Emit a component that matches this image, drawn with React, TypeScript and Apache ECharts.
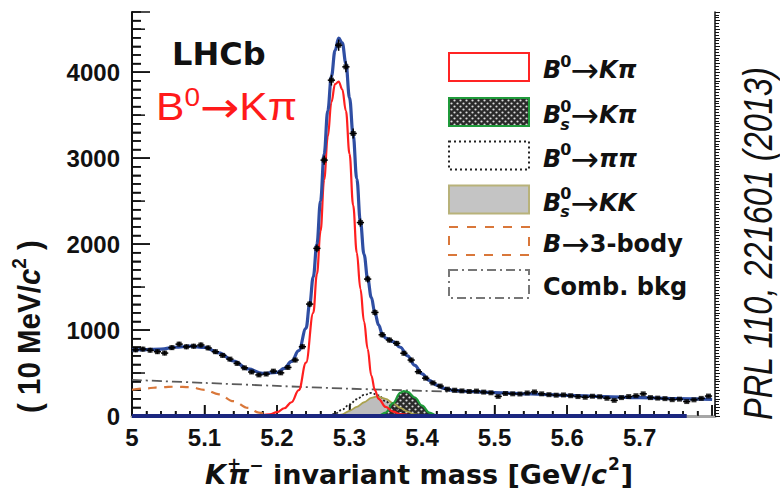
import { useEffect, useRef } from "react";
import * as echarts from "echarts";

// ---------------- data ----------------
const binCenters = [
  5.005, 5.015, 5.025, 5.035, 5.045, 5.055, 5.065, 5.075, 5.085, 5.095,
  5.105, 5.115, 5.125, 5.135, 5.145, 5.155, 5.165, 5.175, 5.185, 5.195,
  5.205, 5.215, 5.225, 5.235, 5.245, 5.255, 5.265, 5.275, 5.285, 5.295,
  5.305, 5.315, 5.325, 5.335, 5.345, 5.355, 5.365, 5.375, 5.385, 5.395,
  5.405, 5.415, 5.425, 5.435, 5.445, 5.455, 5.465, 5.475, 5.485, 5.495,
  5.505, 5.515, 5.525, 5.535, 5.545, 5.555, 5.565, 5.575, 5.585, 5.595,
  5.605, 5.615, 5.625, 5.635, 5.645, 5.655, 5.665, 5.675, 5.685, 5.695,
  5.705, 5.715, 5.725, 5.735, 5.745, 5.755, 5.765, 5.775, 5.785, 5.795,
];

const candidates = [
  770, 778, 765, 748, 732, 795, 836, 805, 812, 826,
  792, 748, 705, 662, 612, 560, 512, 478, 488, 522,
  502, 565, 651, 806, 1302, 1950, 2977, 3907, 4314, 4062,
  3287, 2250, 1593, 1205, 945, 884, 845, 730, 651, 515,
  440, 385, 348, 312, 300, 292, 285, 290, 278, 270,
  228, 262, 258, 256, 268, 280, 258, 248, 242, 245,
  236, 226, 218, 230, 224, 206, 182, 214, 226, 236,
  258, 214, 208, 202, 190, 196, 168, 188, 205, 232,
];

const totalFit: [number, number][] = [
  [5.0, 770], [5.02, 772], [5.04, 778], [5.06, 800], [5.08, 812], [5.1, 798],
  [5.12, 735], [5.14, 640], [5.16, 548], [5.18, 496], [5.2, 508], [5.21, 555],
  [5.22, 635], [5.23, 760], [5.24, 1020], [5.245, 1300], [5.25, 1620], [5.255, 2000],
  [5.26, 2500], [5.265, 3050], [5.27, 3550], [5.275, 3950], [5.28, 4250], [5.285, 4395],
  [5.29, 4340], [5.295, 4100], [5.3, 3700], [5.305, 3270], [5.31, 2760], [5.315, 2260],
  [5.32, 1880], [5.325, 1600], [5.33, 1380], [5.335, 1200], [5.34, 1060], [5.345, 960],
  [5.35, 905], [5.36, 865], [5.37, 800], [5.38, 700], [5.39, 590], [5.4, 490],
  [5.41, 415], [5.42, 360], [5.43, 322], [5.44, 302], [5.46, 288], [5.5, 272],
  [5.55, 256], [5.6, 240], [5.65, 226], [5.7, 214], [5.75, 203], [5.8, 194],
];

const b0KpiFit: [number, number][] = [
  [5.15, 0], [5.17, 3], [5.19, 20], [5.2, 45], [5.21, 90], [5.22, 160], [5.23, 300],
  [5.24, 620], [5.25, 1200], [5.255, 1650], [5.26, 2150], [5.265, 2750], [5.27, 3250],
  [5.275, 3650], [5.28, 3860], [5.285, 3890], [5.29, 3800], [5.295, 3550], [5.3, 3050],
  [5.305, 2450], [5.31, 1900], [5.315, 1480], [5.32, 1100], [5.325, 780], [5.33, 470],
  [5.335, 300], [5.34, 200], [5.35, 105], [5.36, 50], [5.37, 22], [5.39, 5], [5.42, 0],
];

const bsKpiFit: [number, number][] = [
  [5.33, 0], [5.34, 5], [5.35, 40], [5.36, 150], [5.37, 270], [5.375, 290],
  [5.38, 280], [5.39, 215], [5.4, 120], [5.41, 40], [5.42, 6], [5.43, 0],
];

const b0PipiFit: [number, number][] = [
  [5.26, 0], [5.27, 2], [5.28, 25], [5.29, 75], [5.3, 135], [5.31, 195], [5.32, 245],
  [5.33, 268], [5.34, 240], [5.35, 170], [5.36, 95], [5.38, 25], [5.4, 4], [5.42, 0],
];

const bsKKFit: [number, number][] = [
  [5.27, 0], [5.28, 2], [5.29, 20], [5.3, 60], [5.31, 105], [5.32, 160], [5.33, 210],
  [5.338, 228], [5.35, 200], [5.36, 150], [5.37, 95], [5.38, 50], [5.39, 20], [5.41, 0],
];

const threeBodyFit: [number, number][] = [
  [5.0, 305], [5.02, 322], [5.04, 335], [5.06, 341], [5.08, 336], [5.1, 305],
  [5.12, 252], [5.14, 172], [5.16, 95], [5.175, 40], [5.19, 5], [5.2, 0],
];

const combBkgFit: [number, number][] = [
  [5.0, 420], [5.1, 385], [5.2, 350], [5.3, 318], [5.4, 293], [5.5, 268],
  [5.6, 240], [5.7, 214], [5.8, 192],
];

const legendNames = ["B0→Kπ", "Bs0→Kπ", "B0→ππ", "Bs0→KK", "B→3-body", "Comb. bkg"];

// axis ranges and tick steps
const X_MIN = 5, X_MAX = 5.804, X_MAJOR = 0.1, X_MINOR = 0.02, X_LAST_TICK = 5.8;
const Y_MIN = 0, Y_MAX = 4700, Y_MAJOR = 1000, Y_MINOR = 100;

// ---------------- helpers ----------------
type Part = { t: string; font: string; dy?: number; dx?: number; stack?: boolean };

function runText(x0: number, y: number, parts: Part[], fill: string) {
  const ctx = document.createElement("canvas").getContext("2d")!;
  let x = x0;
  const els: any[] = [];
  for (const p of parts) {
    ctx.font = p.font;
    const w = ctx.measureText(p.t).width;
    x += p.dx || 0;
    els.push({
      type: "text",
      x,
      y: y + (p.dy || 0),
      style: {
        text: p.t,
        font: p.font,
        fill,
        align: "left",
        verticalAlign: "middle",
        textAlign: "left",
        textVerticalAlign: "middle",
      },
    });
    if (!p.stack) x += w;
  }
  return els;
}

function makeDots() {
  const c = document.createElement("canvas");
  c.width = 6;
  c.height = 6;
  const g = c.getContext("2d")!;
  g.fillStyle = "#2a2a2a";
  g.fillRect(0, 0, 6, 6);
  g.fillStyle = "#dcdcdc";
  g.beginPath();
  g.arc(1.5, 1.5, 1.1, 0, Math.PI * 2);
  g.fill();
  g.beginPath();
  g.arc(4.5, 4.5, 1.1, 0, Math.PI * 2);
  g.fill();
  return { image: c.toDataURL(), repeat: "repeat", imageWidth: 6, imageHeight: 6 };
}

const INK = "#111";

export default function App() {
  const ref = useRef<HTMLDivElement>(null);

  useEffect(() => {
    const chart = echarts.init(ref.current!, null, { renderer: "svg" });
    const dots = makeDots();

    const FBI = 'italic bold 24px "DejaVu Sans"';
    const FB = 'bold 24px "DejaVu Sans"';
    const FSUP = 'bold 16px "DejaVu Sans"';
    const FSUBI = 'italic bold 16px "DejaVu Sans"';
    const FARR = '34px "DejaVu Sans"';

    const rowY = [67, 112, 155.5, 199.5, 241, 284];
    const boxX = 449, boxW = 80, boxH = 28, textX = 543;

    const legendParts: Part[][] = [
      [{ t: "B", font: FBI }, { t: "0", font: FSUP, dy: -9, dx: -1 }, { t: "→", font: FARR, dx: -1 }, { t: "Kπ", font: FBI }],
      [{ t: "B", font: FBI }, { t: "s", font: FSUBI, dy: 9, dx: -1, stack: true }, { t: "0", font: FSUP, dy: -9 }, { t: "→", font: FARR, dx: -1 }, { t: "Kπ", font: FBI }],
      [{ t: "B", font: FBI }, { t: "0", font: FSUP, dy: -9, dx: -1 }, { t: "→", font: FARR, dx: -1 }, { t: "ππ", font: FBI }],
      [{ t: "B", font: FBI }, { t: "s", font: FSUBI, dy: 9, dx: -1, stack: true }, { t: "0", font: FSUP, dy: -9 }, { t: "→", font: FARR, dx: -1 }, { t: "KK", font: FBI }],
      [{ t: "B", font: FBI }, { t: "→", font: FARR }, { t: "3-body", font: FB }],
      [{ t: legendNames[5], font: FB }],
    ];

    const boxStyles: any[] = [
      { fill: "#fff", stroke: "#ff2424", lineWidth: 2 },
      { fill: dots, stroke: "#1f9a3a", lineWidth: 2 },
      { fill: "#fff", stroke: "#222", lineWidth: 2, lineDash: [2, 3] },
      { fill: "#c4c4c4", stroke: "#b8b27a", lineWidth: 2 },
      { fill: "#fff", stroke: "#d9773a", lineWidth: 2, lineDash: [9, 9] },
      { fill: "#fff", stroke: "#777", lineWidth: 2, lineDash: [9, 4, 2, 4] },
    ];

    const legendEls: any[] = [];
    rowY.forEach((cy, i) => {
      legendEls.push({
        type: "rect",
        shape: { x: boxX, y: cy - boxH / 2, width: boxW, height: boxH },
        style: boxStyles[i],
      });
      legendEls.push(...runText(textX, cy + 3, legendParts[i], INK));
    });

    const XT = 'italic bold 27px "DejaVu Sans"';
    const XB = 'bold 27px "DejaVu Sans"';
    const XS = 'bold 17px "DejaVu Sans"';
    const xTitle = runText(205, 474, [
      { t: "K", font: XT },
      { t: "+", font: XS, dy: -10, dx: 1, stack: true },
      { t: "π", font: XT, dx: 1 },
      { t: "−", font: XS, dy: -9 },
      { t: " invariant mass [GeV/", font: XB },
      { t: "c", font: XT },
      { t: "2", font: XS, dy: -10, dx: 1 },
      { t: "]", font: XB, dx: 1 },
    ], INK);

    const YB = 'bold 29.5px "Liberation Sans"';
    const YI = 'italic bold 29.5px "Liberation Sans"';
    const yTitle = {
      type: "group",
      x: 29,
      y: 413,
      rotation: Math.PI / 2,
      scaleY: 1.05,
      children: runText(0, 0, [
        { t: "( 10 MeV/", font: YB },
        { t: "c", font: YI },
        { t: "2", font: 'bold 19px "Liberation Sans"', dy: -10 },
        { t: " )", font: YB },
      ], INK),
    };

    const prl = {
      type: "group",
      x: 758,
      y: 420,
      rotation: Math.PI / 2,
      scaleY: 1.25,
      children: runText(0, 0, [{ t: "PRL 110, 221601 (2013)", font: 'italic 32.5px "Liberation Sans"' }], INK),
    };

    const lhcb = runText(172, 54, [{ t: "LHCb", font: 'bold 32px "DejaVu Sans"' }], INK);
    const redTitle = {
      type: "group",
      x: 156,
      y: 0,
      scaleX: 1.12,
      children: runText(0, 107, [
        { t: "B", font: '38px "Liberation Sans"' },
        { t: "0", font: '25px "Liberation Sans"', dy: -9 },
        { t: "→", font: '42px "DejaVu Sans"', dy: 1 },
        { t: "Kπ", font: '38px "Liberation Sans"' },
      ], "#ff1a1a"),
    };

    const numFont = { fontFamily: "Liberation Sans", fontWeight: "bold" as const, fontSize: 24, color: INK };

    const option: any = {
      animation: false,
      backgroundColor: "#fff",
      grid: { left: 132, top: 12, width: 583, height: 404, containLabel: false },
      xAxis: [
        {
          type: "value",
          min: X_MIN,
          max: X_MAX,
          interval: X_MAJOR,
          position: "bottom",
          axisLine: { show: true, lineStyle: { color: INK, width: 1 } },
          axisTick: { show: true, inside: true, length: 11, lineStyle: { color: INK, width: 1.5 } },
          minorTick: { show: true, splitNumber: 5, length: 5, lineStyle: { color: INK, width: 1.5 } },
          splitLine: { show: false },
          minorSplitLine: { show: false },
          axisLabel: {
            ...numFont,
            margin: 9,
            showMaxLabel: false,
            formatter: (v: number) => (v > 5.75 ? "" : String(Number(v.toFixed(1)))),
          },
        },
        {
          type: "value",
          min: X_MIN,
          max: X_MAX,
          position: "top",
          axisLine: { show: true, lineStyle: { color: "#a6a6a6", width: 3 } },
          axisTick: { show: false },
          axisLabel: { show: false },
          splitLine: { show: false },
        },
      ],
      yAxis: [
        {
          type: "value",
          min: Y_MIN,
          max: Y_MAX,
          interval: Y_MAJOR,
          position: "left",
          axisLine: { show: true, lineStyle: { color: INK, width: 2 } },
          axisTick: { show: true, inside: true, length: 18, lineStyle: { color: INK, width: 1.5 } },
          minorTick: { show: true, splitNumber: 10, length: 9, lineStyle: { color: INK, width: 1.5 } },
          splitLine: { show: false },
          minorSplitLine: { show: false },
          axisLabel: { ...numFont, margin: 12, showMaxLabel: false, formatter: (v: number) => String(v) },
        },
        {
          type: "value",
          min: Y_MIN,
          max: Y_MAX,
          interval: 100,
          position: "right",
          axisLine: { show: true, lineStyle: { color: INK, width: 1.5 } },
          axisTick: { show: true, inside: false, length: 5, lineStyle: { color: INK, width: 1 } },
          minorTick: { show: true, splitNumber: 3, length: 4, lineStyle: { color: INK, width: 1 } },
          axisLabel: { show: false },
          splitLine: { show: false },
        },
      ],
      series: [
        {
          name: legendNames[5],
          type: "line",
          data: combBkgFit,
          smooth: 0.3,
          symbol: "none",
          silent: true,
          lineStyle: { color: "#5a5a5a", width: 1.8, type: [10, 4, 2, 4] },
        },
        {
          name: legendNames[4],
          type: "line",
          data: threeBodyFit,
          smooth: 0.4,
          smoothMonotone: "x",
          symbol: "none",
          silent: true,
          lineStyle: { color: "#d9773a", width: 2.2, type: [9, 7] },
        },
        {
          name: legendNames[2],
          type: "line",
          data: b0PipiFit,
          smooth: 0.4,
          smoothMonotone: "x",
          symbol: "none",
          silent: true,
          lineStyle: { color: "#222", width: 1.8, type: [2, 2] },
        },
        {
          name: legendNames[3],
          type: "line",
          data: bsKKFit,
          smooth: 0.3,
          smoothMonotone: "x",
          symbol: "none",
          silent: true,
          lineStyle: { color: "#aaa24e", width: 1.8 },
          areaStyle: { color: "#bdbdbd", opacity: 1 },
        },
        {
          name: legendNames[1],
          type: "line",
          data: bsKpiFit,
          smooth: 0.4,
          smoothMonotone: "x",
          symbol: "none",
          silent: true,
          lineStyle: { color: "#1f9a3a", width: 2.2 },
          areaStyle: { color: dots, opacity: 1 },
        },
        {
          name: legendNames[0],
          type: "line",
          data: b0KpiFit,
          smooth: 0.4,
          smoothMonotone: "x",
          symbol: "none",
          silent: true,
          lineStyle: { color: "#ff1f1f", width: 2.2 },
        },
        {
          name: "Total fit",
          type: "line",
          data: totalFit,
          smooth: 0.4,
          smoothMonotone: "x",
          symbol: "none",
          silent: true,
          lineStyle: { color: "#2f4ea3", width: 3.2 },
        },
        {
          name: "baseline",
          type: "line",
          data: [[5.0, 0], [5.765, 0]],
          symbol: "none",
          silent: true,
          clip: false,
          lineStyle: { color: "#1b2780", width: 4 },
          z: 5,
        },
        {
          name: "errors",
          type: "custom",
          silent: true,
          data: binCenters.map((m, i) => [m, candidates[i], Math.sqrt(candidates[i])]),
          renderItem: (_p: any, api: any) => {
            const x = api.value(0), y = api.value(1), e = api.value(2);
            const top = api.coord([x, y + e]);
            const bot = api.coord([x, y - e]);
            const l = api.coord([x - 0.005, y]);
            const r = api.coord([x + 0.005, y]);
            return {
              type: "group",
              children: [
                { type: "rect", shape: { x: top[0] - 0.75, y: top[1], width: 1.5, height: Math.max(1, bot[1] - top[1]) }, style: { fill: "#000" } },
                { type: "rect", shape: { x: l[0], y: l[1] - 0.75, width: r[0] - l[0], height: 1.5 }, style: { fill: "#000" } },
              ],
            };
          },
          z: 6,
        },
        {
          name: "Data",
          type: "scatter",
          data: binCenters.map((m, i) => [m, candidates[i]]),
          symbol: "rect",
          symbolSize: 5,
          silent: true,
          itemStyle: { color: "#000" },
          z: 7,
        },
      ],
    };

    chart.setOption(option);

    // extra inner tick marks (ROOT style), placed through the chart's own axis scales
    const finder = { xAxisIndex: 0, yAxisIndex: 0 } as any;
    const toPx = (x: number, y: number) => chart.convertToPixel(finder, [x, y]) as unknown as number[];
    const tickEls: any[] = [];
    const nY = Math.round((Y_MAX - Y_MIN) / Y_MINOR);
    for (let i = 0; i <= nY; i++) {
      const v = Y_MIN + i * Y_MINOR;
      const len = v % Y_MAJOR === 0 ? 18 : v % 500 === 0 ? 13 : 9;
      const p = toPx(X_MIN, v);
      tickEls.push({
        type: "rect",
        shape: { x: p[0], y: p[1] - 0.75, width: len, height: 1.5 },
        style: { fill: INK },
      });
    }
    const nX = Math.round((X_LAST_TICK - X_MIN) / X_MINOR);
    const perMajor = Math.round(X_MAJOR / X_MINOR);
    for (let i = 0; i <= nX; i++) {
      const v = X_MIN + i * X_MINOR;
      const len = i % perMajor === 0 ? 11 : 5;
      const p = toPx(v, Y_MIN);
      tickEls.push({
        type: "rect",
        shape: { x: p[0] - 0.75, y: p[1] - len, width: 1.5, height: len },
        style: { fill: INK },
      });
    }

    chart.setOption({
      graphic: [...tickEls, ...legendEls, ...xTitle, yTitle, prl, ...lhcb, redTitle],
    });

    return () => chart.dispose();
  }, []);

  return <div ref={ref} style={{ position: "absolute", left: 0, top: 0, width: 780, height: 495 }} />;
}
